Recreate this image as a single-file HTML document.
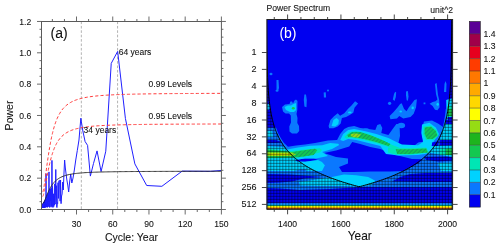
<!DOCTYPE html>
<html><head><meta charset="utf-8"><style>
html,body{margin:0;padding:0;background:#fff;width:500px;height:249px;overflow:hidden}
svg{display:block}
text{font-family:"Liberation Sans",sans-serif;fill:#111;stroke:#111;stroke-width:0.08px}
</style></head><body>
<div style="will-change:transform;width:500px;height:249px">
<svg width="500" height="249" viewBox="0 0 500 249">
<defs>
<clipPath id="cpa"><rect x="41.5" y="21.5" width="179.90" height="188.00"/></clipPath>
<clipPath id="cpb"><rect x="266.9" y="19.5" width="185.70" height="189.80"/></clipPath>
<pattern id="diag" patternUnits="userSpaceOnUse" width="2.9" height="2.9" patternTransform="rotate(45)"><line x1="0" y1="0" x2="0" y2="2.9" stroke="#0a4a70" stroke-width="0.8" stroke-opacity="0.8"/></pattern>
</defs>
<rect width="500" height="249" fill="#fff"/>
<g clip-path="url(#cpa)">
<line x1="81.34" y1="21.5" x2="81.34" y2="209.5" stroke="#aaa" stroke-width="0.9" stroke-dasharray="2.6 1.8"/>
<line x1="117.57" y1="21.5" x2="117.57" y2="209.5" stroke="#aaa" stroke-width="0.9" stroke-dasharray="2.6 1.8"/>
<polyline points="221.40,170.46 210.53,171.30 182.16,171.10 161.89,186.30 146.69,185.50 134.87,163.90 125.41,118.50 117.67,51.40 111.23,63.40 105.77,151.20 101.09,171.60 97.04,150.90 93.49,163.50 90.36,176.10 87.58,145.40 85.09,141.50 82.85,131.00 80.83,118.20 78.98,140.00 77.30,150.50 75.76,160.00 74.34,170.00 73.03,178.00 71.82,183.00 70.69,174.00 69.64,182.00 68.67,192.00 67.75,185.00 66.89,180.00 66.09,174.00 65.33,168.00 64.61,160.00 63.94,174.00 63.30,190.00 62.69,182.00 62.12,193.96 61.57,196.00 61.05,203.67 60.56,180.00 60.09,201.16 59.64,180.32 59.21,180.55 58.80,180.78 58.40,198.40 58.03,182.67 57.66,203.56 57.32,202.56 56.98,207.55 56.66,207.17 56.35,185.67 56.06,195.15 55.77,169.50 55.49,188.99 55.23,204.18 54.97,202.41 54.72,183.83 54.48,205.05 54.25,196.23 54.02,200.52 53.80,206.52 53.59,193.79 53.39,202.39 53.19,206.05 53.00,207.43 52.81,200.14 52.63,189.48 52.45,186.34 52.28,206.70 52.11,207.13 51.95,160.40 51.80,205.82 51.64,204.03 51.49,206.14 51.35,202.16 51.21,188.06 51.07,205.30 50.93,207.17 50.80,200.48 50.67,188.88 50.55,192.94 50.43,189.27 50.31,190.88 50.19,201.03 50.08,189.86 49.97,204.20 49.86,206.27 49.75,198.41 49.65,200.70 49.54,207.38 49.45,194.87 49.35,197.36 49.25,205.13 49.16,191.49 49.07,201.42 48.98,171.90 48.89,206.54 48.80,204.28 48.72,206.45 48.64,206.40 48.56,206.37 48.48,202.40 48.40,192.97 48.32,193.12 48.25,197.95 48.17,201.62 48.10,193.58 48.03,193.72 47.96,193.87 47.89,206.07 47.83,199.89 47.76,202.52 47.69,206.06 47.63,204.32 47.57,194.70 47.51,202.36 47.45,207.37 47.39,195.09 47.33,205.36 47.27,205.57 47.21,205.43 47.16,206.53 47.10,201.09 47.05,198.39 47.00,205.62 46.94,202.73 46.89,206.08 46.84,206.36 46.79,206.46 46.74,200.75 46.69,203.45 46.64,196.74 46.60,201.73 46.55,206.92 46.51,206.07 46.46,207.05 46.42,201.09 46.37,200.52 46.33,206.21 46.29,206.87 46.25,206.37 46.20,197.74 46.16,206.39 46.12,206.87 46.08,200.51 46.04,173.70 46.01,203.84 45.97,207.00 45.93,204.88 45.89,207.35 45.86,199.22 45.82,206.36 45.78,200.06 45.75,206.59 45.71,204.43 45.68,199.74 45.65,206.60 45.61,206.16 45.58,205.58 45.55,207.29 45.51,203.12 45.48,202.95 45.45,203.34 45.42,200.29 45.39,204.82 45.36,206.20 45.33,205.66 45.30,206.46 45.27,206.67 45.24,205.93 45.21,200.00 45.18,201.95 45.16,206.75 45.13,204.75 45.10,206.39 45.07,200.30 45.05,203.72 45.02,206.82 45.00,206.43 44.97,206.93 44.94,206.83 44.92,206.53 44.89,206.33 44.87,206.14 44.84,206.25 44.82,207.21 44.80,206.14 44.77,207.40 44.75,201.38 44.73,201.07 44.70,201.12 44.68,206.21 44.66,202.47 44.64,207.40 44.61,206.10 44.59,203.89 44.57,206.11 44.55,206.32 44.53,202.86 44.51,207.09 44.49,203.63 44.47,207.59 44.44,206.93 44.42,201.70 44.40,206.82 44.38,201.79 44.37,206.10 44.35,201.87 44.33,201.91 44.31,205.01 44.29,206.19 44.27,207.21 44.25,203.07 44.23,206.52 44.22,202.13 44.20,206.95 44.18,202.20 44.16,206.36 44.14,202.27 44.13,202.30 44.11,206.93 44.09,206.17 44.08,205.25 44.06,207.25 44.04,202.47 44.03,202.50 44.01,205.81 43.99,207.17 43.98,207.32 43.96,206.19 43.95,205.19 43.93,206.76 43.91,204.36 43.90,207.45 43.88,206.94 43.87,206.31 43.85,206.66 43.84,206.08 43.82,206.27 43.81,206.62 43.80,206.79 43.78,202.94 43.77,202.97 43.75,205.47 43.74,203.02 43.72,206.57 43.71,205.80 43.70,205.92 43.68,204.13 43.67,205.64 43.66,206.76 43.64,205.45 43.63,206.14 43.62,203.22 43.60,206.83 43.59,204.95 43.58,203.28 43.57,203.30 43.55,203.32 43.54,206.17 43.53,206.79 43.52,206.59 43.50,206.24 43.49,206.89 43.48,207.39 43.47,206.61 43.46,203.47 43.45,206.64 43.43,206.35 43.42,204.14 43.41,206.31 43.40,206.32 43.39,206.22 43.38,206.53 43.37,205.56 43.35,204.11 43.34,203.63 43.33,206.64 43.32,206.55 43.31,207.61 43.30,206.45 43.29,206.78 43.28,207.52 43.27,207.22 43.26,203.74 43.25,207.30 43.24,206.09 43.23,207.02 43.22,206.55 43.21,206.65 43.20,207.50 43.19,204.56 43.18,207.14 43.17,207.60 43.16,203.86 43.15,206.53 43.14,207.16 43.13,206.89 43.12,207.43 43.11,207.31 43.10,206.15 43.09,203.93 43.08,206.10 43.07,207.20 43.07,205.56 43.06,205.58 43.05,204.59 43.04,207.41 43.03,206.82 43.02,206.52 43.01,205.84 43.00,207.58 42.99,204.02 42.99,207.15 42.98,204.62 42.97,206.30 42.96,204.04 42.95,207.43 42.94,206.50 42.94,207.17 42.93,207.00 42.92,206.70 42.91,206.95 42.90,206.32 42.90,204.09 42.89,206.15 42.88,206.09 42.87,207.32 42.86,206.12 42.86,206.35 42.85,206.19 42.84,206.76 42.83,207.54 42.83,206.91 42.82,206.61 42.81,206.44 42.80,207.42 42.80,207.08 42.79,206.46 42.78,207.21 42.77,207.15 42.77,207.00 42.76,205.15 42.75,205.67 42.75,207.27 42.74,206.06 42.73,207.40 42.72,205.49 42.72,206.89 42.71,206.02" fill="none" stroke="#2020ff" stroke-width="1" stroke-linejoin="round"/>
<polyline points="42.71,191.89 42.77,191.87 42.83,191.81 42.89,191.71 42.95,191.58 43.01,191.43 43.07,191.25 43.13,191.05 43.19,190.83 43.25,190.59 43.31,190.34 43.37,190.07 43.43,189.79 43.49,189.49 43.55,189.19 43.61,188.87 43.67,188.54 43.73,188.21 43.79,187.86 43.85,187.51 43.91,187.15 43.98,186.78 44.04,186.41 44.10,186.03 44.16,185.64 44.22,185.25 44.28,184.85 44.34,184.45 44.40,184.05 44.46,183.64 44.52,183.22 44.58,182.80 44.64,182.38 44.70,181.96 44.76,181.53 44.82,181.10 44.88,180.67 44.94,180.23 45.00,179.79 45.06,179.35 45.12,178.91 45.42,176.68 45.73,174.42 46.03,172.15 46.33,169.88 46.63,167.63 46.93,165.41 47.24,163.21 47.54,161.05 47.84,158.93 48.14,156.87 48.44,154.85 48.74,152.89 49.05,150.98 49.35,149.13 49.65,147.33 49.95,145.60 50.25,143.92 50.56,142.29 50.86,140.73 51.16,139.21 51.46,137.76 51.76,136.35 52.06,135.00 52.37,133.70 52.67,132.44 52.97,131.23 53.27,130.07 53.57,128.95 53.88,127.88 54.18,126.84 54.48,125.84 54.78,124.88 55.08,123.96 55.38,123.07 55.69,122.22 55.99,121.39 56.29,120.60 56.59,119.84 56.89,119.10 57.20,118.39 58.40,115.80 59.61,113.56 60.82,111.62 62.03,109.92 63.23,108.44 64.44,107.13 65.65,105.98 66.86,104.96 68.06,104.05 69.27,103.23 70.48,102.50 71.68,101.85 72.89,101.26 74.10,100.72 75.31,100.24 76.51,99.80 77.72,99.40 78.93,99.03 80.14,98.69 81.34,98.38 82.55,98.10 83.76,97.83 84.97,97.59 86.17,97.36 87.38,97.15 88.59,96.96 89.80,96.78 91.00,96.61 92.21,96.45 93.42,96.31 94.62,96.17 95.83,96.04 97.04,95.92 98.25,95.80 99.45,95.69 100.66,95.59 101.87,95.50 103.08,95.41 104.28,95.32 105.49,95.24 106.70,95.16 107.91,95.09 109.11,95.02 110.32,94.96 111.53,94.89 112.74,94.83 113.94,94.78 115.15,94.72 116.36,94.67 117.57,94.62 118.77,94.58 119.98,94.53 121.19,94.49 122.39,94.45 123.60,94.41 124.81,94.37 126.02,94.34 127.22,94.30 128.43,94.27 129.64,94.24 130.85,94.21 132.05,94.18 133.26,94.15 134.47,94.12 135.68,94.10 136.88,94.07 138.09,94.05 139.30,94.02 140.51,94.00 141.71,93.98 142.92,93.96 144.13,93.94 145.33,93.92 146.54,93.90 147.75,93.88 148.96,93.86 150.16,93.85 151.37,93.83 152.58,93.81 153.79,93.80 154.99,93.78 156.20,93.77 157.41,93.75 158.62,93.74 159.82,93.73 161.03,93.71 162.24,93.70 163.45,93.69 164.65,93.68 165.86,93.66 167.07,93.65 168.28,93.64 169.48,93.63 170.69,93.62 171.90,93.61 173.10,93.60 174.31,93.59 175.52,93.58 176.73,93.57 177.93,93.57 179.14,93.56 180.35,93.55 181.56,93.54 182.76,93.53 183.97,93.53 185.18,93.52 186.39,93.51 187.59,93.50 188.80,93.50 190.01,93.49 191.22,93.48 192.42,93.48 193.63,93.47 194.84,93.46 196.04,93.46 197.25,93.45 198.46,93.45 199.67,93.44 200.87,93.44 202.08,93.43 203.29,93.42 204.50,93.42 205.70,93.41 206.91,93.41 208.12,93.40 209.33,93.40 210.53,93.40 211.74,93.39 212.95,93.39 214.16,93.38 215.36,93.38 216.57,93.37 217.78,93.37 218.99,93.37 220.19,93.36 221.40,93.36" fill="none" stroke="#ff3a3a" stroke-width="1" stroke-dasharray="3.2 2.1"/>
<polyline points="42.71,196.54 42.77,196.52 42.83,196.48 42.89,196.40 42.95,196.31 43.01,196.20 43.07,196.06 43.13,195.92 43.19,195.76 43.25,195.58 43.31,195.39 43.37,195.20 43.43,194.99 43.49,194.77 43.55,194.55 43.61,194.31 43.67,194.07 43.73,193.82 43.79,193.57 43.85,193.31 43.91,193.05 43.98,192.77 44.04,192.50 44.10,192.22 44.16,191.94 44.22,191.65 44.28,191.36 44.34,191.06 44.40,190.76 44.46,190.46 44.52,190.15 44.58,189.85 44.64,189.54 44.70,189.22 44.76,188.91 44.82,188.59 44.88,188.27 44.94,187.95 45.00,187.63 45.06,187.31 45.12,186.98 45.42,185.34 45.73,183.67 46.03,182.00 46.33,180.34 46.63,178.68 46.93,177.04 47.24,175.42 47.54,173.83 47.84,172.27 48.14,170.75 48.44,169.27 48.74,167.82 49.05,166.42 49.35,165.05 49.65,163.73 49.95,162.45 50.25,161.22 50.56,160.02 50.86,158.87 51.16,157.76 51.46,156.68 51.76,155.65 52.06,154.65 52.37,153.69 52.67,152.77 52.97,151.88 53.27,151.02 53.57,150.20 53.88,149.41 54.18,148.65 54.48,147.91 54.78,147.20 55.08,146.53 55.38,145.87 55.69,145.24 55.99,144.63 56.29,144.05 56.59,143.49 56.89,142.95 57.20,142.42 58.40,140.52 59.61,138.87 60.82,137.44 62.03,136.19 63.23,135.10 64.44,134.14 65.65,133.29 66.86,132.53 68.06,131.86 69.27,131.27 70.48,130.73 71.68,130.25 72.89,129.81 74.10,129.42 75.31,129.06 76.51,128.74 77.72,128.44 78.93,128.17 80.14,127.92 81.34,127.69 82.55,127.48 83.76,127.29 84.97,127.11 86.17,126.94 87.38,126.79 88.59,126.65 89.80,126.51 91.00,126.39 92.21,126.27 93.42,126.17 94.62,126.06 95.83,125.97 97.04,125.88 98.25,125.79 99.45,125.72 100.66,125.64 101.87,125.57 103.08,125.50 104.28,125.44 105.49,125.38 106.70,125.32 107.91,125.27 109.11,125.22 110.32,125.17 111.53,125.13 112.74,125.08 113.94,125.04 115.15,125.00 116.36,124.96 117.57,124.93 118.77,124.89 119.98,124.86 121.19,124.83 122.39,124.80 123.60,124.77 124.81,124.74 126.02,124.72 127.22,124.69 128.43,124.67 129.64,124.64 130.85,124.62 132.05,124.60 133.26,124.58 134.47,124.56 135.68,124.54 136.88,124.52 138.09,124.50 139.30,124.49 140.51,124.47 141.71,124.45 142.92,124.44 144.13,124.42 145.33,124.41 146.54,124.39 147.75,124.38 148.96,124.37 150.16,124.35 151.37,124.34 152.58,124.33 153.79,124.32 154.99,124.31 156.20,124.30 157.41,124.29 158.62,124.28 159.82,124.27 161.03,124.26 162.24,124.25 163.45,124.24 164.65,124.23 165.86,124.22 167.07,124.21 168.28,124.21 169.48,124.20 170.69,124.19 171.90,124.18 173.10,124.18 174.31,124.17 175.52,124.16 176.73,124.16 177.93,124.15 179.14,124.14 180.35,124.14 181.56,124.13 182.76,124.12 183.97,124.12 185.18,124.11 186.39,124.11 187.59,124.10 188.80,124.10 190.01,124.09 191.22,124.09 192.42,124.08 193.63,124.08 194.84,124.07 196.04,124.07 197.25,124.07 198.46,124.06 199.67,124.06 200.87,124.05 202.08,124.05 203.29,124.04 204.50,124.04 205.70,124.04 206.91,124.03 208.12,124.03 209.33,124.03 210.53,124.02 211.74,124.02 212.95,124.02 214.16,124.01 215.36,124.01 216.57,124.01 217.78,124.00 218.99,124.00 220.19,124.00 221.40,124.00" fill="none" stroke="#ff3a3a" stroke-width="1" stroke-dasharray="3.2 2.1"/>
<polyline points="42.71,203.71 42.77,203.70 42.83,203.68 42.89,203.65 42.95,203.60 43.01,203.55 43.07,203.49 43.13,203.43 43.19,203.36 43.25,203.28 43.31,203.19 43.37,203.11 43.43,203.01 43.49,202.92 43.55,202.82 43.61,202.71 43.67,202.60 43.73,202.49 43.79,202.38 43.85,202.26 43.91,202.15 43.98,202.02 44.04,201.90 44.10,201.78 44.16,201.65 44.22,201.52 44.28,201.39 44.34,201.26 44.40,201.12 44.46,200.99 44.52,200.85 44.58,200.71 44.64,200.58 44.70,200.44 44.76,200.30 44.82,200.15 44.88,200.01 44.94,199.87 45.00,199.72 45.06,199.58 45.12,199.43 45.42,198.70 45.73,197.96 46.03,197.21 46.33,196.46 46.63,195.72 46.93,194.99 47.24,194.27 47.54,193.56 47.84,192.86 48.14,192.18 48.44,191.52 48.74,190.87 49.05,190.24 49.35,189.63 49.65,189.04 49.95,188.47 50.25,187.92 50.56,187.38 50.86,186.87 51.16,186.37 51.46,185.89 51.76,185.43 52.06,184.98 52.37,184.56 52.67,184.14 52.97,183.74 53.27,183.36 53.57,182.99 53.88,182.64 54.18,182.30 54.48,181.97 54.78,181.66 55.08,181.35 55.38,181.06 55.69,180.78 55.99,180.51 56.29,180.25 56.59,179.99 56.89,179.75 57.20,179.52 58.40,178.67 59.61,177.93 60.82,177.29 62.03,176.73 63.23,176.24 64.44,175.81 65.65,175.43 66.86,175.10 68.06,174.80 69.27,174.53 70.48,174.29 71.68,174.08 72.89,173.88 74.10,173.71 75.31,173.55 76.51,173.40 77.72,173.27 78.93,173.15 80.14,173.04 81.34,172.93 82.55,172.84 83.76,172.75 84.97,172.67 86.17,172.60 87.38,172.53 88.59,172.47 89.80,172.41 91.00,172.35 92.21,172.30 93.42,172.25 94.62,172.21 95.83,172.16 97.04,172.12 98.25,172.09 99.45,172.05 100.66,172.02 101.87,171.98 103.08,171.96 104.28,171.93 105.49,171.90 106.70,171.88 107.91,171.85 109.11,171.83 110.32,171.81 111.53,171.79 112.74,171.77 113.94,171.75 115.15,171.73 116.36,171.71 117.57,171.70 118.77,171.68 119.98,171.67 121.19,171.65 122.39,171.64 123.60,171.63 124.81,171.61 126.02,171.60 127.22,171.59 128.43,171.58 129.64,171.57 130.85,171.56 132.05,171.55 133.26,171.54 134.47,171.53 135.68,171.52 136.88,171.52 138.09,171.51 139.30,171.50 140.51,171.49 141.71,171.49 142.92,171.48 144.13,171.47 145.33,171.47 146.54,171.46 147.75,171.45 148.96,171.45 150.16,171.44 151.37,171.44 152.58,171.43 153.79,171.43 154.99,171.42 156.20,171.42 157.41,171.41 158.62,171.41 159.82,171.40 161.03,171.40 162.24,171.39 163.45,171.39 164.65,171.39 165.86,171.38 167.07,171.38 168.28,171.37 169.48,171.37 170.69,171.37 171.90,171.36 173.10,171.36 174.31,171.36 175.52,171.36 176.73,171.35 177.93,171.35 179.14,171.35 180.35,171.34 181.56,171.34 182.76,171.34 183.97,171.34 185.18,171.33 186.39,171.33 187.59,171.33 188.80,171.33 190.01,171.32 191.22,171.32 192.42,171.32 193.63,171.32 194.84,171.32 196.04,171.31 197.25,171.31 198.46,171.31 199.67,171.31 200.87,171.31 202.08,171.30 203.29,171.30 204.50,171.30 205.70,171.30 206.91,171.30 208.12,171.30 209.33,171.29 210.53,171.29 211.74,171.29 212.95,171.29 214.16,171.29 215.36,171.29 216.57,171.29 217.78,171.28 218.99,171.28 220.19,171.28 221.40,171.28" fill="none" stroke="#222" stroke-width="0.9"/>
</g>
<rect x="41.5" y="21.5" width="179.90" height="188.00" fill="none" stroke="#5a5a5a" stroke-width="1"/>
<g stroke="#5a5a5a" stroke-width="0.9">
<line x1="52.37" y1="209.5" x2="52.37" y2="212.0"/>
<line x1="52.37" y1="21.5" x2="52.37" y2="19.0"/>
<line x1="64.44" y1="209.5" x2="64.44" y2="212.0"/>
<line x1="64.44" y1="21.5" x2="64.44" y2="19.0"/>
<line x1="76.51" y1="209.5" x2="76.51" y2="214.5"/>
<line x1="76.51" y1="21.5" x2="76.51" y2="16.5"/>
<line x1="88.59" y1="209.5" x2="88.59" y2="212.0"/>
<line x1="88.59" y1="21.5" x2="88.59" y2="19.0"/>
<line x1="100.66" y1="209.5" x2="100.66" y2="212.0"/>
<line x1="100.66" y1="21.5" x2="100.66" y2="19.0"/>
<line x1="112.74" y1="209.5" x2="112.74" y2="214.5"/>
<line x1="112.74" y1="21.5" x2="112.74" y2="16.5"/>
<line x1="124.81" y1="209.5" x2="124.81" y2="212.0"/>
<line x1="124.81" y1="21.5" x2="124.81" y2="19.0"/>
<line x1="136.88" y1="209.5" x2="136.88" y2="212.0"/>
<line x1="136.88" y1="21.5" x2="136.88" y2="19.0"/>
<line x1="148.96" y1="209.5" x2="148.96" y2="214.5"/>
<line x1="148.96" y1="21.5" x2="148.96" y2="16.5"/>
<line x1="161.03" y1="209.5" x2="161.03" y2="212.0"/>
<line x1="161.03" y1="21.5" x2="161.03" y2="19.0"/>
<line x1="173.10" y1="209.5" x2="173.10" y2="212.0"/>
<line x1="173.10" y1="21.5" x2="173.10" y2="19.0"/>
<line x1="185.18" y1="209.5" x2="185.18" y2="214.5"/>
<line x1="185.18" y1="21.5" x2="185.18" y2="16.5"/>
<line x1="197.25" y1="209.5" x2="197.25" y2="212.0"/>
<line x1="197.25" y1="21.5" x2="197.25" y2="19.0"/>
<line x1="209.33" y1="209.5" x2="209.33" y2="212.0"/>
<line x1="209.33" y1="21.5" x2="209.33" y2="19.0"/>
<line x1="221.40" y1="209.5" x2="221.40" y2="214.5"/>
<line x1="221.40" y1="21.5" x2="221.40" y2="16.5"/>
<line x1="37.0" y1="209.50" x2="41.5" y2="209.50"/>
<line x1="221.4" y1="209.50" x2="225.9" y2="209.50"/>
<line x1="39.5" y1="201.66" x2="41.5" y2="201.66"/>
<line x1="221.4" y1="201.66" x2="223.4" y2="201.66"/>
<line x1="39.5" y1="193.83" x2="41.5" y2="193.83"/>
<line x1="221.4" y1="193.83" x2="223.4" y2="193.83"/>
<line x1="39.5" y1="186.00" x2="41.5" y2="186.00"/>
<line x1="221.4" y1="186.00" x2="223.4" y2="186.00"/>
<line x1="37.0" y1="178.16" x2="41.5" y2="178.16"/>
<line x1="221.4" y1="178.16" x2="225.9" y2="178.16"/>
<line x1="39.5" y1="170.32" x2="41.5" y2="170.32"/>
<line x1="221.4" y1="170.32" x2="223.4" y2="170.32"/>
<line x1="39.5" y1="162.49" x2="41.5" y2="162.49"/>
<line x1="221.4" y1="162.49" x2="223.4" y2="162.49"/>
<line x1="39.5" y1="154.66" x2="41.5" y2="154.66"/>
<line x1="221.4" y1="154.66" x2="223.4" y2="154.66"/>
<line x1="37.0" y1="146.82" x2="41.5" y2="146.82"/>
<line x1="221.4" y1="146.82" x2="225.9" y2="146.82"/>
<line x1="39.5" y1="138.99" x2="41.5" y2="138.99"/>
<line x1="221.4" y1="138.99" x2="223.4" y2="138.99"/>
<line x1="39.5" y1="131.15" x2="41.5" y2="131.15"/>
<line x1="221.4" y1="131.15" x2="223.4" y2="131.15"/>
<line x1="39.5" y1="123.31" x2="41.5" y2="123.31"/>
<line x1="221.4" y1="123.31" x2="223.4" y2="123.31"/>
<line x1="37.0" y1="115.48" x2="41.5" y2="115.48"/>
<line x1="221.4" y1="115.48" x2="225.9" y2="115.48"/>
<line x1="39.5" y1="107.65" x2="41.5" y2="107.65"/>
<line x1="221.4" y1="107.65" x2="223.4" y2="107.65"/>
<line x1="39.5" y1="99.81" x2="41.5" y2="99.81"/>
<line x1="221.4" y1="99.81" x2="223.4" y2="99.81"/>
<line x1="39.5" y1="91.98" x2="41.5" y2="91.98"/>
<line x1="221.4" y1="91.98" x2="223.4" y2="91.98"/>
<line x1="37.0" y1="84.14" x2="41.5" y2="84.14"/>
<line x1="221.4" y1="84.14" x2="225.9" y2="84.14"/>
<line x1="39.5" y1="76.31" x2="41.5" y2="76.31"/>
<line x1="221.4" y1="76.31" x2="223.4" y2="76.31"/>
<line x1="39.5" y1="68.47" x2="41.5" y2="68.47"/>
<line x1="221.4" y1="68.47" x2="223.4" y2="68.47"/>
<line x1="39.5" y1="60.63" x2="41.5" y2="60.63"/>
<line x1="221.4" y1="60.63" x2="223.4" y2="60.63"/>
<line x1="37.0" y1="52.80" x2="41.5" y2="52.80"/>
<line x1="221.4" y1="52.80" x2="225.9" y2="52.80"/>
<line x1="39.5" y1="44.97" x2="41.5" y2="44.97"/>
<line x1="221.4" y1="44.97" x2="223.4" y2="44.97"/>
<line x1="39.5" y1="37.13" x2="41.5" y2="37.13"/>
<line x1="221.4" y1="37.13" x2="223.4" y2="37.13"/>
<line x1="39.5" y1="29.29" x2="41.5" y2="29.29"/>
<line x1="221.4" y1="29.29" x2="223.4" y2="29.29"/>
<line x1="37.0" y1="21.46" x2="41.5" y2="21.46"/>
<line x1="221.4" y1="21.46" x2="225.9" y2="21.46"/>
</g>
<g font-size="8.6">
<text x="31.2" y="212.60" text-anchor="end">0.0</text>
<text x="31.2" y="181.26" text-anchor="end">0.2</text>
<text x="31.2" y="149.92" text-anchor="end">0.4</text>
<text x="31.2" y="118.58" text-anchor="end">0.6</text>
<text x="31.2" y="87.24" text-anchor="end">0.8</text>
<text x="31.2" y="55.90" text-anchor="end">1.0</text>
<text x="31.2" y="24.56" text-anchor="end">1.2</text>
<text x="76.51" y="226.8" text-anchor="middle">30</text>
<text x="112.74" y="226.8" text-anchor="middle">60</text>
<text x="148.96" y="226.8" text-anchor="middle">90</text>
<text x="185.18" y="226.8" text-anchor="middle">120</text>
<text x="221.40" y="226.8" text-anchor="middle">150</text>
</g>
<text x="131.45" y="240.8" text-anchor="middle" font-size="10.5">Cycle: Year</text>
<text transform="translate(13.4,115.5) rotate(-90)" text-anchor="middle" font-size="10.5">Power</text>
<text x="50.5" y="38.2" font-size="14">(a)</text>
<g font-size="8.5">
<text x="118.7" y="54.8">64 years</text>
<text x="83.6" y="133.1">34 years</text>
<text x="148.6" y="86.9">0.99 Levels</text>
<text x="148.6" y="118.5">0.95 Levels</text>
</g>
<!-- right panel -->
<rect x="266.9" y="19.5" width="185.70" height="189.80" fill="#0000f0"/>
<g clip-path="url(#cpb)">
<polygon points="266.0,127.5 276.0,127.5 278.0,133.0 281.0,138.5 284.0,143.0 288.0,146.8 296.0,145.5 305.0,144.5 315.0,143.0 328.0,140.5 337.1,140.1 340.2,134.1 344.2,129.0 348.2,127.0 354.2,126.0 360.2,128.0 368.3,129.0 375.3,130.0 377.3,125.0 380.3,124.0 382.3,128.0 381.3,133.1 388.4,135.1 393.4,128.0 396.4,124.0 399.5,124.0 400.0,136.0 398.0,145.0 404.0,146.0 414.0,146.0 421.0,140.0 422.0,128.0 424.0,121.5 432.0,120.5 438.0,123.5 443.0,127.0 446.0,110.0 446.0,100.0 454.0,98.0 454.0,209.5 266.0,209.5" fill="#0a78ff"/>
<polygon points="266.0,140.0 276.0,140.0 283.0,142.5 276.0,143.0 266.0,143.0" fill="#0000f0"/>
<polygon points="266.0,174.0 290.0,174.5 304.0,175.5 322.0,177.0 304.0,178.5 292.0,181.5 280.0,182.5 266.0,183.0" fill="#0000f0"/>
<polygon points="392.0,181.5 400.0,177.0 410.0,174.0 425.0,173.0 440.0,173.0 454.0,173.0 454.0,182.0 420.0,182.0" fill="#0000f0"/>
<polygon points="266.0,188.0 280.0,188.5 300.0,190.0 330.0,189.0 360.0,187.0 390.0,187.0 420.0,187.0 454.0,187.0 454.0,203.3 266.0,203.3" fill="#0000f0"/>
<polygon points="324.1,153.1 336.0,150.5 346.0,147.5 349.2,146.5 352.2,142.1 360.2,144.1 370.3,147.1 380.3,149.1 388.4,152.1 394.4,155.1 400.0,156.1 412.0,159.0 423.0,159.2 418.0,163.5 410.0,167.5 404.0,171.0 390.0,171.5 370.0,171.5 354.0,172.0 342.0,172.0 339.0,167.0 348.0,163.5 348.0,158.4 336.0,157.0" fill="#0000f0"/>
<polygon points="424.0,156.8 454.0,156.5 454.0,160.5 438.0,161.5 426.0,160.0" fill="#0000f0"/>
<polygon points="295.0,160.0 305.0,158.6 314.0,158.4 318.0,160.0 305.0,161.8 297.0,161.6" fill="#0000f0"/>
<polygon points="440.0,140.0 454.0,139.0 454.0,145.0 440.0,145.5" fill="#0000f0"/>
<polygon points="446.0,117.0 454.0,117.0 454.0,124.0 446.0,124.0" fill="#0000f0"/>
<polygon points="266.0,120.0 272.0,121.0 276.0,127.5 266.0,127.5" fill="#0000f0"/>
<polygon points="266.0,131.0 272.0,131.0 273.0,137.0 266.0,137.0" fill="#00d2ff"/>
<polygon points="266.0,146.0 283.6,147.0 287.2,149.4 298.0,147.6 310.1,145.8 322.2,145.2 330.1,143.1 338.2,143.7 339.2,145.1 332.1,149.1 322.1,152.1 328.0,156.0 316.0,158.5 305.0,158.5 295.0,160.0 266.0,160.0" fill="#00d2ff"/>
<polygon points="266.0,160.0 295.0,160.0 297.0,161.6 305.0,161.8 318.0,160.0 322.0,162.0 324.6,165.0 318.0,168.5 300.0,169.5 294.0,171.0 266.0,171.0" fill="#00d2ff"/>
<polygon points="332.0,177.0 344.0,174.6 356.1,175.2 368.2,177.0 375.4,180.7 372.0,185.0 360.0,186.8 344.0,186.0 320.0,186.0 300.0,185.5 299.0,182.0 310.0,180.5 322.0,178.5" fill="#00d2ff"/>
<polygon points="306.0,165.0 325.0,165.0 322.0,171.0 306.0,171.0" fill="#00d2ff"/>
<polygon points="340.2,140.1 343.2,134.1 348.2,130.0 354.2,129.0 364.3,131.0 376.3,134.1 388.4,138.1 396.4,142.1 402.0,144.5 418.0,145.3 423.0,142.1 421.3,134.0 422.0,124.4 429.4,122.8 435.8,127.6 439.0,134.0 434.2,140.5 431.0,146.0 454.0,146.0 454.0,157.5 431.0,153.0 418.0,155.0 398.9,155.6 386.0,154.0 380.3,146.1 368.3,143.1 356.2,140.1 348.2,139.1 343.2,141.1" fill="#00d2ff"/>
<polygon points="405.0,132.5 421.0,132.5 423.0,141.8 410.0,143.5 402.0,142.0" fill="#0000f0"/>
<polygon points="432.0,142.5 439.0,141.0 438.0,146.0 432.0,146.0" fill="#0000f0"/>
<polygon points="438.0,163.0 454.0,162.5 454.0,171.0 441.0,171.0" fill="#00d2ff"/>
<polygon points="446.5,100.0 454.0,98.0 454.0,117.0 447.5,117.0" fill="#00d2ff"/>
<polygon points="445.7,108.9 448.0,108.9 448.0,120.0 445.7,120.0" fill="#0a78ff"/>
<polygon points="444.5,124.0 454.0,124.0 454.0,140.0 440.0,140.0" fill="#00d2ff"/>
<polygon points="266.0,148.6 289.6,151.3 304.1,149.4 319.8,148.2 322.0,150.0 319.8,152.5 304.1,156.7 292.0,157.8 266.0,158.6" fill="#00e6b4"/>
<polygon points="266.0,149.5 292.0,151.9 314.9,148.8 317.3,150.0 313.7,154.9 298.0,157.3 266.0,157.8" fill="#14c850"/>
<polygon points="266.0,152.2 292.0,152.5 296.0,154.3 292.0,156.0 266.0,156.0" fill="#96dc14"/>
<polygon points="270.0,153.2 288.0,153.4 291.0,154.4 288.0,155.2 270.0,155.2" fill="#e0f000"/>
<polygon points="344.2,137.1 349.2,132.0 356.2,131.0 368.3,134.1 380.3,139.1 392.4,145.1 400.0,148.1 400.0,150.1 388.4,147.1 376.3,143.1 364.3,140.1 352.2,138.1 346.2,138.5" fill="#00e6b4"/>
<polygon points="347.2,135.1 352.2,132.0 360.2,132.0 372.3,136.1 384.3,141.1 390.4,144.1 388.4,146.1 376.3,142.1 364.3,139.1 352.2,137.1 348.2,137.1" fill="#14c850"/>
<polygon points="350.5,134.5 355.0,133.2 361.0,134.5 358.0,137.5 352.0,137.0" fill="#96dc14"/>
<polygon points="423.5,126.5 431.0,125.5 436.5,130.0 438.5,135.7 433.5,140.0 426.0,140.0 423.0,134.0" fill="#00e6b4"/>
<polygon points="424.6,127.6 431.0,126.8 435.8,130.9 437.4,135.7 432.6,138.9 427.0,138.9 424.6,134.0" fill="#14c850"/>
<polygon points="388.0,147.5 396.0,148.0 410.1,148.2 426.2,147.4 429.0,152.4 410.1,154.8 396.2,154.8 388.0,152.5" fill="#00e6b4"/>
<polygon points="395.6,149.2 410.1,149.2 426.2,148.4 427.8,152.4 410.1,154.0 397.2,154.0" fill="#14c850"/>
<polygon points="440.0,149.0 454.0,148.0 454.0,155.0 440.0,155.0" fill="#00e6b4"/>
<polygon points="446.0,149.0 454.0,148.5 454.0,155.0 446.0,155.0" fill="#14c850"/>
<polygon points="447.0,106.0 454.0,106.0 454.0,117.0 447.0,117.0" fill="#00e6b4"/>
<polygon points="448.0,109.0 454.0,109.0 454.0,116.0 448.0,116.0" fill="#14c850"/>
<rect x="266" y="203.0" width="188" height="8" fill="#0a78ff"/>
<rect x="266" y="204.6" width="188" height="7" fill="#00d2ff"/>
<rect x="266" y="205.4" width="188" height="6" fill="#14c850"/>
<rect x="266" y="206.1" width="188" height="5" fill="#ffff00"/>
<rect x="266" y="207.3" width="188" height="4" fill="#ffa000"/>
<rect x="266" y="208.3" width="188" height="3" fill="#f05010"/>
<ellipse cx="271" cy="74" rx="1.5" ry="1.3" fill="#0a78ff"/>
<polygon points="276.5,80.0 278.5,80.0 279.0,88.0 278.0,91.5 276.5,90.0" fill="#0a78ff"/>
<ellipse cx="277" cy="90.8" rx="1.5" ry="1" fill="#0a78ff"/>
<polygon points="304.4,94.6 306.0,94.5 306.8,100.0 306.5,107.3 304.4,106.5 303.8,100.0" fill="#0a78ff"/>
<polygon points="323.7,92.5 325.8,92.2 326.1,97.6 323.9,97.4" fill="#0a78ff"/>
<ellipse cx="328" cy="90.6" rx="1" ry="1" fill="#0a78ff"/>
<polygon points="392.8,99.5 394.0,94.0 395.2,91.8 396.2,92.5 395.8,97.0 394.5,101.0" fill="#0a78ff"/>
<ellipse cx="389.6" cy="103.3" rx="1.6" ry="1.6" fill="#0a78ff"/>
<polygon points="406.0,91.6 407.9,91.0 408.5,96.4 407.9,100.7 406.7,100.2 406.0,95.2" fill="#0a78ff"/>
<polygon points="389.6,116.1 393.6,112.1 397.7,107.3 400.1,104.1 401.7,103.3 404.1,108.9 406.5,111.3 408.9,107.3 412.1,103.3 414.5,100.0 416.9,99.2 416.1,107.3 413.7,113.7 410.5,116.9 403.3,118.5 399.3,116.1 396.9,118.5 390.4,119.3" fill="#0a78ff"/>
<ellipse cx="400.7" cy="111.5" rx="1.3" ry="1" fill="#00d2ff"/>
<ellipse cx="412.7" cy="107.9" rx="1.2" ry="1.3" fill="#00d2ff"/>
<ellipse cx="401.3" cy="125.5" rx="3.8" ry="2.8" fill="#0a78ff"/>
<polygon points="423.6,102.5 425.4,102.5 425.4,104.3 423.6,104.3" fill="#0a78ff"/>
<polygon points="429.6,103.7 432.6,101.9 435.6,101.3 437.4,99.4 436.0,94.0 435.0,84.0 436.6,83.0 438.0,95.0 439.2,100.0 439.6,107.3 437.4,110.3 435.0,109.7 432.6,106.1" fill="#0a78ff"/>
<ellipse cx="437.7" cy="104.3" rx="1.2" ry="1.5" fill="#00d2ff"/>
<polygon points="282.0,107.0 285.0,104.5 289.5,104.0 290.5,101.5 292.0,101.5 293.0,103.5 294.5,100.5 296.0,99.5 297.5,101.0 297.3,110.0 296.5,114.0 297.5,118.0 297.3,123.0 299.0,126.0 299.2,131.0 297.0,133.5 292.0,133.5 289.5,131.5 289.3,126.5 291.0,122.5 290.8,115.5 289.0,113.5 285.5,113.5 283.0,111.5" fill="#0a78ff"/>
<polygon points="284.5,107.0 288.0,105.5 291.0,105.5 293.5,104.0 296.0,103.0 296.2,110.0 294.0,112.0 290.0,112.0 286.0,110.0" fill="#00d2ff"/>
<ellipse cx="293.3" cy="108.2" rx="1.5" ry="1.3" fill="#14c850"/>
<polygon points="328.6,125.9 330.4,119.9 334.0,116.3 337.7,113.3 340.1,115.7 344.3,113.3 347.9,109.0 351.5,105.4 355.1,101.2 358.1,103.6 354.5,107.8 353.3,112.7 349.7,115.1 346.1,116.9 341.9,118.1 340.7,123.5 337.7,126.5 333.4,128.3 329.2,128.3" fill="#0a78ff"/>
<polygon points="331.6,125.9 333.4,119.9 336.5,118.1 338.9,119.9 338.3,124.1 335.3,126.5" fill="#00d2ff"/>
<ellipse cx="349.8" cy="112.4" rx="1.8" ry="0.9" fill="#00d2ff"/>
<ellipse cx="366" cy="129.5" rx="3" ry="1.2" fill="#0a78ff"/>
<polygon points="444.0,92.0 444.5,84.0 445.5,81.0 446.5,84.0 446.2,92.0" fill="#0a78ff"/>
<ellipse cx="268.2" cy="107" rx="1.5" ry="3" fill="#00d2ff"/>
<clipPath id="hclip"><polygon points="347.2,135.1 352.2,132.0 360.2,132.0 372.3,136.1 384.3,141.1 390.4,144.1 388.4,146.1 376.3,142.1 364.3,139.1 352.2,137.1 348.2,137.1"/>
<polygon points="424.6,127.6 431.0,126.8 435.8,130.9 437.4,135.7 432.6,138.9 427.0,138.9 424.6,134.0"/>
<polygon points="395.6,149.2 410.1,149.2 426.2,148.4 427.8,152.4 410.1,154.0 397.2,154.0"/>
<polygon points="292.0,151.9 314.9,148.8 317.3,150.0 313.7,154.9 298.0,157.3 292.0,156.1"/></clipPath>
<rect x="266.9" y="19.5" width="185.70" height="189.80" fill="url(#diag)" clip-path="url(#hclip)"/>
<clipPath id="coiclip"><polygon points="266,212 266.60,15.00 266.85,47.17 267.10,61.93 267.35,71.05 267.60,77.67 267.85,82.87 268.10,87.16 268.35,90.80 268.60,93.97 268.85,96.77 269.10,99.28 269.35,101.56 269.60,103.64 269.85,105.56 270.10,107.34 270.35,108.99 270.60,110.54 270.85,112.00 271.10,113.38 271.35,114.68 271.60,115.92 271.85,117.09 272.10,118.22 272.35,119.29 272.60,120.32 272.85,121.30 273.10,122.25 273.35,123.16 273.60,124.04 273.85,124.89 274.10,125.71 274.35,126.50 274.60,127.27 274.85,128.02 275.10,128.74 275.35,129.44 275.60,130.12 275.85,130.79 276.10,131.43 276.35,132.06 276.60,132.68 277.60,134.98 278.60,137.09 279.60,139.04 280.60,140.83 281.60,142.51 282.60,144.07 283.60,145.55 284.60,146.93 285.60,148.25 286.60,149.49 287.60,150.68 288.60,151.81 289.60,152.89 290.60,153.92 291.60,154.91 292.60,155.87 293.60,156.78 294.60,157.67 295.60,158.52 296.60,159.35 297.60,160.14 298.60,160.91 299.60,161.66 300.60,162.39 301.60,163.09 302.60,163.78 303.60,164.44 304.60,165.09 305.60,165.72 306.60,166.34 308.60,167.53 310.60,168.66 312.60,169.74 314.60,170.77 316.60,171.77 318.60,172.72 320.60,173.64 322.60,174.52 324.60,175.38 326.60,176.20 328.60,177.00 330.60,177.77 332.60,178.52 334.60,179.25 336.60,179.95 338.60,180.64 340.60,181.31 342.60,181.95 344.60,182.59 346.60,183.20 348.60,183.80 350.60,184.39 352.60,184.96 354.60,185.52 356.60,186.07 358.60,186.60 360.60,186.39 362.60,185.85 364.60,185.30 366.60,184.73 368.60,184.15 370.60,183.56 372.60,182.96 374.60,182.33 376.60,181.69 378.60,181.04 380.60,180.36 382.60,179.67 384.60,178.96 386.60,178.22 388.60,177.46 390.60,176.68 392.60,175.87 394.60,175.04 396.60,174.17 398.60,173.27 400.60,172.34 402.60,171.37 404.60,170.36 406.60,169.31 408.60,168.21 410.60,167.05 412.60,165.84 413.60,165.21 414.60,164.57 415.60,163.91 416.60,163.22 417.60,162.52 418.60,161.80 419.60,161.06 420.60,160.29 421.60,159.50 422.60,158.68 423.60,157.83 424.60,156.95 425.60,156.04 426.60,155.10 427.60,154.11 428.60,153.09 429.60,152.02 430.60,150.90 431.60,149.72 432.60,148.49 433.60,147.19 434.60,145.82 435.60,144.36 436.60,142.81 437.60,141.16 438.60,139.39 439.60,137.48 440.60,135.40 441.60,133.13 442.60,130.63 442.85,129.96 443.10,129.27 443.35,128.57 443.60,127.84 443.85,127.09 444.10,126.32 444.35,125.52 444.60,124.69 444.85,123.83 445.10,122.95 445.35,122.03 445.60,121.07 445.85,120.07 446.10,119.04 446.35,117.95 446.60,116.82 446.85,115.63 447.10,114.38 447.35,113.06 447.60,111.66 447.85,110.18 448.10,108.61 448.35,106.92 448.60,105.11 448.85,103.16 449.10,101.03 449.35,98.70 449.60,96.12 449.85,93.24 450.10,89.97 450.35,86.20 450.60,81.72 450.85,76.24 451.10,69.15 451.35,59.12 451.60,41.74 451.84,15.00 451.84,15 454,15 454,212"/></clipPath>
<path clip-path="url(#coiclip)" d="M267.78 15V212M270.79 15V212M273.80 15V212M276.81 15V212M279.82 15V212M282.83 15V212M285.84 15V212M288.85 15V212M291.86 15V212M294.87 15V212M297.88 15V212M300.89 15V212M303.90 15V212M306.91 15V212M309.92 15V212M312.93 15V212M315.94 15V212M318.95 15V212M321.96 15V212M324.97 15V212M327.98 15V212M330.99 15V212M334.00 15V212M337.01 15V212M340.02 15V212M343.03 15V212M346.04 15V212M349.05 15V212M352.06 15V212M355.07 15V212M358.08 15V212M361.09 15V212M364.10 15V212M367.11 15V212M370.12 15V212M373.13 15V212M376.14 15V212M379.15 15V212M382.16 15V212M385.17 15V212M388.18 15V212M391.19 15V212M394.20 15V212M397.21 15V212M400.22 15V212M403.23 15V212M406.24 15V212M409.25 15V212M412.26 15V212M415.27 15V212M418.28 15V212M421.29 15V212M424.30 15V212M427.31 15V212M430.32 15V212M433.33 15V212M436.34 15V212M439.35 15V212M442.36 15V212M445.37 15V212M448.38 15V212M451.39 15V212M454.40 15V212M264 16.40H456M264 19.40H456M264 22.40H456M264 25.40H456M264 28.40H456M264 31.40H456M264 34.40H456M264 37.40H456M264 40.40H456M264 43.40H456M264 46.40H456M264 49.40H456M264 52.40H456M264 55.40H456M264 58.40H456M264 61.40H456M264 64.40H456M264 67.40H456M264 70.40H456M264 73.40H456M264 76.40H456M264 79.40H456M264 82.40H456M264 85.40H456M264 88.40H456M264 91.40H456M264 94.40H456M264 97.40H456M264 100.40H456M264 103.40H456M264 106.40H456M264 109.40H456M264 112.40H456M264 115.40H456M264 118.40H456M264 121.40H456M264 124.40H456M264 127.40H456M264 130.40H456M264 133.40H456M264 136.40H456M264 139.40H456M264 142.40H456M264 145.40H456M264 148.40H456M264 151.40H456M264 154.40H456M264 157.40H456M264 160.40H456M264 163.40H456M264 166.40H456M264 169.40H456M264 172.40H456M264 175.40H456M264 178.40H456M264 181.40H456M264 184.40H456M264 187.40H456M264 190.40H456M264 193.40H456M264 196.40H456M264 199.40H456M264 202.40H456M264 205.40H456M264 208.40H456M264 211.40H456" stroke="#000" stroke-width="0.65" stroke-opacity="0.6" fill="none"/>
<polyline points="266.60,15.00 266.85,47.17 267.10,61.93 267.35,71.05 267.60,77.67 267.85,82.87 268.10,87.16 268.35,90.80 268.60,93.97 268.85,96.77 269.10,99.28 269.35,101.56 269.60,103.64 269.85,105.56 270.10,107.34 270.35,108.99 270.60,110.54 270.85,112.00 271.10,113.38 271.35,114.68 271.60,115.92 271.85,117.09 272.10,118.22 272.35,119.29 272.60,120.32 272.85,121.30 273.10,122.25 273.35,123.16 273.60,124.04 273.85,124.89 274.10,125.71 274.35,126.50 274.60,127.27 274.85,128.02 275.10,128.74 275.35,129.44 275.60,130.12 275.85,130.79 276.10,131.43 276.35,132.06 276.60,132.68 277.60,134.98 278.60,137.09 279.60,139.04 280.60,140.83 281.60,142.51 282.60,144.07 283.60,145.55 284.60,146.93 285.60,148.25 286.60,149.49 287.60,150.68 288.60,151.81 289.60,152.89 290.60,153.92 291.60,154.91 292.60,155.87 293.60,156.78 294.60,157.67 295.60,158.52 296.60,159.35 297.60,160.14 298.60,160.91 299.60,161.66 300.60,162.39 301.60,163.09 302.60,163.78 303.60,164.44 304.60,165.09 305.60,165.72 306.60,166.34 308.60,167.53 310.60,168.66 312.60,169.74 314.60,170.77 316.60,171.77 318.60,172.72 320.60,173.64 322.60,174.52 324.60,175.38 326.60,176.20 328.60,177.00 330.60,177.77 332.60,178.52 334.60,179.25 336.60,179.95 338.60,180.64 340.60,181.31 342.60,181.95 344.60,182.59 346.60,183.20 348.60,183.80 350.60,184.39 352.60,184.96 354.60,185.52 356.60,186.07 358.60,186.60 360.60,186.39 362.60,185.85 364.60,185.30 366.60,184.73 368.60,184.15 370.60,183.56 372.60,182.96 374.60,182.33 376.60,181.69 378.60,181.04 380.60,180.36 382.60,179.67 384.60,178.96 386.60,178.22 388.60,177.46 390.60,176.68 392.60,175.87 394.60,175.04 396.60,174.17 398.60,173.27 400.60,172.34 402.60,171.37 404.60,170.36 406.60,169.31 408.60,168.21 410.60,167.05 412.60,165.84 413.60,165.21 414.60,164.57 415.60,163.91 416.60,163.22 417.60,162.52 418.60,161.80 419.60,161.06 420.60,160.29 421.60,159.50 422.60,158.68 423.60,157.83 424.60,156.95 425.60,156.04 426.60,155.10 427.60,154.11 428.60,153.09 429.60,152.02 430.60,150.90 431.60,149.72 432.60,148.49 433.60,147.19 434.60,145.82 435.60,144.36 436.60,142.81 437.60,141.16 438.60,139.39 439.60,137.48 440.60,135.40 441.60,133.13 442.60,130.63 442.85,129.96 443.10,129.27 443.35,128.57 443.60,127.84 443.85,127.09 444.10,126.32 444.35,125.52 444.60,124.69 444.85,123.83 445.10,122.95 445.35,122.03 445.60,121.07 445.85,120.07 446.10,119.04 446.35,117.95 446.60,116.82 446.85,115.63 447.10,114.38 447.35,113.06 447.60,111.66 447.85,110.18 448.10,108.61 448.35,106.92 448.60,105.11 448.85,103.16 449.10,101.03 449.35,98.70 449.60,96.12 449.85,93.24 450.10,89.97 450.35,86.20 450.60,81.72 450.85,76.24 451.10,69.15 451.35,59.12 451.60,41.74 451.84,15.00" fill="none" stroke="#000" stroke-width="1"/>
</g>
<rect x="266.9" y="19.5" width="185.70" height="189.80" fill="none" stroke="#222" stroke-width="1"/>
<g stroke="#333" stroke-width="0.9">
<line x1="274.27" y1="209.3" x2="274.27" y2="211.8"/>
<line x1="274.27" y1="19.5" x2="274.27" y2="17.0"/>
<line x1="287.60" y1="209.3" x2="287.60" y2="214.3"/>
<line x1="287.60" y1="19.5" x2="287.60" y2="14.5"/>
<line x1="300.93" y1="209.3" x2="300.93" y2="211.8"/>
<line x1="300.93" y1="19.5" x2="300.93" y2="17.0"/>
<line x1="314.27" y1="209.3" x2="314.27" y2="211.8"/>
<line x1="314.27" y1="19.5" x2="314.27" y2="17.0"/>
<line x1="327.60" y1="209.3" x2="327.60" y2="211.8"/>
<line x1="327.60" y1="19.5" x2="327.60" y2="17.0"/>
<line x1="340.93" y1="209.3" x2="340.93" y2="214.3"/>
<line x1="340.93" y1="19.5" x2="340.93" y2="14.5"/>
<line x1="354.27" y1="209.3" x2="354.27" y2="211.8"/>
<line x1="354.27" y1="19.5" x2="354.27" y2="17.0"/>
<line x1="367.60" y1="209.3" x2="367.60" y2="211.8"/>
<line x1="367.60" y1="19.5" x2="367.60" y2="17.0"/>
<line x1="380.93" y1="209.3" x2="380.93" y2="211.8"/>
<line x1="380.93" y1="19.5" x2="380.93" y2="17.0"/>
<line x1="394.27" y1="209.3" x2="394.27" y2="214.3"/>
<line x1="394.27" y1="19.5" x2="394.27" y2="14.5"/>
<line x1="407.60" y1="209.3" x2="407.60" y2="211.8"/>
<line x1="407.60" y1="19.5" x2="407.60" y2="17.0"/>
<line x1="420.94" y1="209.3" x2="420.94" y2="211.8"/>
<line x1="420.94" y1="19.5" x2="420.94" y2="17.0"/>
<line x1="434.27" y1="209.3" x2="434.27" y2="211.8"/>
<line x1="434.27" y1="19.5" x2="434.27" y2="17.0"/>
<line x1="447.60" y1="209.3" x2="447.60" y2="214.3"/>
<line x1="447.60" y1="19.5" x2="447.60" y2="14.5"/>
<line x1="261.9" y1="52.50" x2="266.9" y2="52.50"/>
<line x1="452.6" y1="52.50" x2="457.6" y2="52.50"/>
<line x1="261.9" y1="69.38" x2="266.9" y2="69.38"/>
<line x1="452.6" y1="69.38" x2="457.6" y2="69.38"/>
<line x1="261.9" y1="86.26" x2="266.9" y2="86.26"/>
<line x1="452.6" y1="86.26" x2="457.6" y2="86.26"/>
<line x1="261.9" y1="103.13" x2="266.9" y2="103.13"/>
<line x1="452.6" y1="103.13" x2="457.6" y2="103.13"/>
<line x1="261.9" y1="120.01" x2="266.9" y2="120.01"/>
<line x1="452.6" y1="120.01" x2="457.6" y2="120.01"/>
<line x1="261.9" y1="136.89" x2="266.9" y2="136.89"/>
<line x1="452.6" y1="136.89" x2="457.6" y2="136.89"/>
<line x1="261.9" y1="153.77" x2="266.9" y2="153.77"/>
<line x1="452.6" y1="153.77" x2="457.6" y2="153.77"/>
<line x1="261.9" y1="170.65" x2="266.9" y2="170.65"/>
<line x1="452.6" y1="170.65" x2="457.6" y2="170.65"/>
<line x1="261.9" y1="187.52" x2="266.9" y2="187.52"/>
<line x1="452.6" y1="187.52" x2="457.6" y2="187.52"/>
<line x1="261.9" y1="204.40" x2="266.9" y2="204.40"/>
<line x1="452.6" y1="204.40" x2="457.6" y2="204.40"/>
</g>
<g font-size="8.6">
<text x="256.6" y="55.20" text-anchor="end" font-size="9">1</text>
<text x="256.6" y="72.08" text-anchor="end" font-size="9">2</text>
<text x="256.6" y="88.96" text-anchor="end" font-size="9">4</text>
<text x="256.6" y="105.83" text-anchor="end" font-size="9">8</text>
<text x="256.6" y="122.71" text-anchor="end" font-size="9">16</text>
<text x="256.6" y="139.59" text-anchor="end" font-size="9">32</text>
<text x="256.6" y="156.47" text-anchor="end" font-size="9">64</text>
<text x="256.6" y="173.35" text-anchor="end" font-size="9">128</text>
<text x="256.6" y="190.22" text-anchor="end" font-size="9">256</text>
<text x="256.6" y="207.10" text-anchor="end" font-size="9">512</text>
<text x="287.60" y="227" text-anchor="middle">1400</text>
<text x="340.93" y="227" text-anchor="middle">1600</text>
<text x="394.27" y="227" text-anchor="middle">1800</text>
<text x="447.60" y="227" text-anchor="middle">2000</text>
</g>
<text x="359.75" y="240" text-anchor="middle" font-size="11.9">Year</text>
<text x="266.6" y="11.3" font-size="8.6">Power Spectrum</text>
<text x="453" y="13.1" text-anchor="end" font-size="8.6">unit^2</text>
<text x="279.4" y="38.2" font-size="14" style="fill:#fff;stroke:none">(b)</text>
<g font-size="8.6">
<rect x="469.3" y="21.50" width="11" height="12.42" fill="#5a0096"/>
<rect x="469.3" y="33.87" width="11" height="12.42" fill="#a0004a"/>
<rect x="469.3" y="46.25" width="11" height="12.42" fill="#e6001e"/>
<rect x="469.3" y="58.62" width="11" height="12.42" fill="#ff3c00"/>
<rect x="469.3" y="70.99" width="11" height="12.42" fill="#ff7800"/>
<rect x="469.3" y="83.37" width="11" height="12.42" fill="#ffaa00"/>
<rect x="469.3" y="95.74" width="11" height="12.42" fill="#ffd800"/>
<rect x="469.3" y="108.11" width="11" height="12.42" fill="#ffff00"/>
<rect x="469.3" y="120.49" width="11" height="12.42" fill="#96dc14"/>
<rect x="469.3" y="132.86" width="11" height="12.42" fill="#1eb41e"/>
<rect x="469.3" y="145.23" width="11" height="12.42" fill="#14c850"/>
<rect x="469.3" y="157.61" width="11" height="12.42" fill="#00e6b4"/>
<rect x="469.3" y="169.98" width="11" height="12.42" fill="#00d2ff"/>
<rect x="469.3" y="182.35" width="11" height="12.42" fill="#0a78ff"/>
<rect x="469.3" y="194.73" width="11" height="12.42" fill="#0000f0"/>
<line x1="469.3" y1="33.87" x2="480.3" y2="33.87" stroke="#333" stroke-width="0.5"/>
<line x1="469.3" y1="46.25" x2="480.3" y2="46.25" stroke="#333" stroke-width="0.5"/>
<line x1="469.3" y1="58.62" x2="480.3" y2="58.62" stroke="#333" stroke-width="0.5"/>
<line x1="469.3" y1="70.99" x2="480.3" y2="70.99" stroke="#333" stroke-width="0.5"/>
<line x1="469.3" y1="83.37" x2="480.3" y2="83.37" stroke="#333" stroke-width="0.5"/>
<line x1="469.3" y1="95.74" x2="480.3" y2="95.74" stroke="#333" stroke-width="0.5"/>
<line x1="469.3" y1="108.11" x2="480.3" y2="108.11" stroke="#333" stroke-width="0.5"/>
<line x1="469.3" y1="120.49" x2="480.3" y2="120.49" stroke="#333" stroke-width="0.5"/>
<line x1="469.3" y1="132.86" x2="480.3" y2="132.86" stroke="#333" stroke-width="0.5"/>
<line x1="469.3" y1="145.23" x2="480.3" y2="145.23" stroke="#333" stroke-width="0.5"/>
<line x1="469.3" y1="157.61" x2="480.3" y2="157.61" stroke="#333" stroke-width="0.5"/>
<line x1="469.3" y1="169.98" x2="480.3" y2="169.98" stroke="#333" stroke-width="0.5"/>
<line x1="469.3" y1="182.35" x2="480.3" y2="182.35" stroke="#333" stroke-width="0.5"/>
<line x1="469.3" y1="194.73" x2="480.3" y2="194.73" stroke="#333" stroke-width="0.5"/>
<rect x="469.3" y="21.5" width="11" height="185.60" fill="none" stroke="#222" stroke-width="0.6"/>
<text x="483.5" y="36.97">1.4</text>
<text x="483.5" y="49.35">1.3</text>
<text x="483.5" y="61.72">1.2</text>
<text x="483.5" y="74.09">1.1</text>
<text x="483.5" y="86.47">1</text>
<text x="483.5" y="98.84">0.9</text>
<text x="483.5" y="111.21">0.8</text>
<text x="483.5" y="123.59">0.7</text>
<text x="483.5" y="135.96">0.6</text>
<text x="483.5" y="148.33">0.5</text>
<text x="483.5" y="160.71">0.4</text>
<text x="483.5" y="173.08">0.3</text>
<text x="483.5" y="185.45">0.2</text>
<text x="483.5" y="197.83">0.1</text>
</g>
</svg>
</div>
</body></html>
